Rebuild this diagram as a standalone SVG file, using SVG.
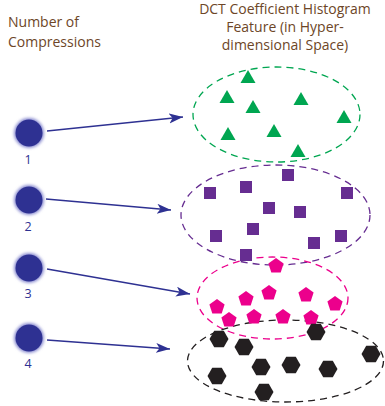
<svg xmlns="http://www.w3.org/2000/svg" width="385" height="406" viewBox="0 0 385 406">
<defs>
<style>
.title{font-family:"Open Sans","Noto Sans","Liberation Sans",sans-serif;font-size:14px;fill:#6d4627}
.num{font-family:"Open Sans","Noto Sans","Liberation Sans",sans-serif;font-size:12.5px;fill:#2e3192;text-anchor:middle}
.node{fill:#2e3192}
.halo{fill:#8a8cd0;filter:url(#blur)}
.arrow{stroke:#2e3192;stroke-width:1.5;fill:none;marker-end:url(#ah)}
.ell{fill:none;stroke-width:1.3;stroke-dasharray:7 5}
</style>
<filter id="blur" x="-50%" y="-50%" width="200%" height="200%"><feGaussianBlur stdDeviation="1.6"/></filter>
<marker id="ah" markerUnits="userSpaceOnUse" markerWidth="16" markerHeight="12" refX="14" refY="5" orient="auto">
<path d="M0,0 L14,5 L0,10 L3.5,5 Z" fill="#2e3192"/>
</marker>
<path id="tri" d="M0,-8 L7.5,5 L-7.5,5 Z" fill="#00a651"/>
<path id="sq" d="M-6,-6 h12 v12 h-12 Z" fill="#662d91"/>
<path id="pent" d="M0,-8 L7.61,-2.47 L4.7,6.47 L-4.7,6.47 L-7.61,-2.47 Z" fill="#ec008c"/>
<path id="hex" d="M-9.5,0 L-4.75,-8.2 L4.75,-8.2 L9.5,0 L4.75,8.2 L-4.75,8.2 Z" fill="#231f20"/>
</defs>

<g id="header-left">
<text class="title" x="8" y="27">Number of</text>
<text class="title" x="8" y="47">Compressions</text>
</g>
<g id="header-right" text-anchor="middle">
<text class="title" x="285" y="14">DCT Coefficient Histogram</text>
<text class="title" x="285" y="32">Feature (in Hyper-</text>
<text class="title" x="285" y="50">dimensional Space)</text>
</g>

<g id="node1"><circle class="halo" cx="29" cy="133" r="15"/><circle class="node" cx="29" cy="133" r="13.5"/><text class="num" x="28" y="164">1</text></g>
<g id="node2"><circle class="halo" cx="29" cy="200" r="15"/><circle class="node" cx="29" cy="200" r="13.5"/><text class="num" x="28" y="231">2</text></g>
<g id="node3"><circle class="halo" cx="29" cy="268" r="15"/><circle class="node" cx="29" cy="268" r="13.5"/><text class="num" x="28" y="298">3</text></g>
<g id="node4"><circle class="halo" cx="29" cy="338" r="15"/><circle class="node" cx="29" cy="338" r="13.5"/><text class="num" x="28" y="368">4</text></g>

<g id="connectors">
<line class="arrow" x1="47" y1="131" x2="183" y2="117"/>
<line class="arrow" x1="46" y1="199" x2="171" y2="210"/>
<line class="arrow" x1="47" y1="269" x2="190" y2="294"/>
<line class="arrow" x1="47" y1="340" x2="170" y2="349"/>
</g>

<g id="clusters-outlines">
<ellipse class="ell" cx="276.5" cy="114.5" rx="83.5" ry="47.5" stroke="#00a651"/>
<ellipse class="ell" cx="275.5" cy="215" rx="94.5" ry="50" stroke="#662d91"/>
<ellipse class="ell" cx="272.5" cy="298" rx="75.5" ry="41" stroke="#ec008c"/>
<ellipse class="ell" cx="285.5" cy="361" rx="98" ry="41" stroke="#231f20"/>
</g>

<g id="cluster1">
<use href="#tri" x="248" y="78"/>
<use href="#tri" x="227" y="98"/>
<use href="#tri" x="253" y="108"/>
<use href="#tri" x="301" y="100"/>
<use href="#tri" x="344" y="118"/>
<use href="#tri" x="228" y="135"/>
<use href="#tri" x="274" y="132"/>
<use href="#tri" x="298" y="152"/>
</g>
<g id="cluster2">
<use href="#sq" x="288" y="175"/>
<use href="#sq" x="246" y="187"/>
<use href="#sq" x="210" y="193"/>
<use href="#sq" x="347" y="193"/>
<use href="#sq" x="269" y="208"/>
<use href="#sq" x="300" y="212"/>
<use href="#sq" x="253" y="229"/>
<use href="#sq" x="216" y="236"/>
<use href="#sq" x="341" y="236"/>
<use href="#sq" x="314" y="243"/>
<use href="#sq" x="246" y="255"/>
</g>
<g id="cluster3">
<use href="#pent" x="276" y="266"/>
<use href="#pent" x="269" y="293"/>
<use href="#pent" x="246" y="299"/>
<use href="#pent" x="306" y="295"/>
<use href="#pent" x="335" y="304"/>
<use href="#pent" x="217" y="307"/>
<use href="#pent" x="229" y="320"/>
<use href="#pent" x="254" y="317"/>
<use href="#pent" x="283" y="317"/>
<use href="#pent" x="311" y="318"/>
</g>
<g id="cluster4">
<use href="#hex" x="316" y="332"/>
<use href="#hex" x="219" y="339"/>
<use href="#hex" x="244" y="347"/>
<use href="#hex" x="371" y="354"/>
<use href="#hex" x="261" y="367"/>
<use href="#hex" x="291" y="365"/>
<use href="#hex" x="328" y="369"/>
<use href="#hex" x="217" y="376"/>
<use href="#hex" x="264" y="392"/>
</g>
</svg>
